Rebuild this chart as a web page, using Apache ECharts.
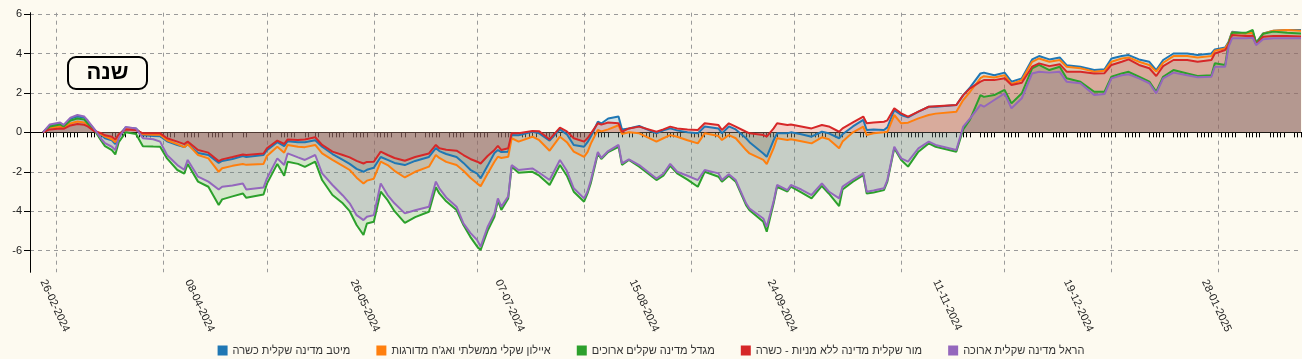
<!DOCTYPE html>
<html><head><meta charset="utf-8">
<script src="https://cdn.jsdelivr.net/npm/echarts@6/dist/echarts.min.js"></script>
<style>html,body{margin:0;padding:0;background:#fdfaf0}#c{width:1302px;height:359px}</style>
</head><body><div id="c"></div>
<script>
const dates = ['2024-02-26','2024-02-28','2024-03-02','2024-03-03','2024-03-05','2024-03-07','2024-03-09','2024-03-10','2024-03-12','2024-03-14',
'2024-03-15','2024-03-17','2024-03-18','2024-03-19','2024-03-21','2024-03-24','2024-03-26','2024-03-29','2024-03-31','2024-04-02',
'2024-04-05','2024-04-07','2024-04-08','2024-04-11','2024-04-14','2024-04-17','2024-04-18','2024-04-21','2024-04-24','2024-04-25',
'2024-04-30','2024-05-01','2024-05-04','2024-05-06','2024-05-07','2024-05-10','2024-05-12','2024-05-15','2024-05-17','2024-05-20',
'2024-05-23','2024-05-25','2024-05-27','2024-05-29','2024-05-30','2024-06-01','2024-06-03','2024-06-05','2024-06-07','2024-06-10',
'2024-06-13','2024-06-17','2024-06-19','2024-06-20','2024-06-22','2024-06-25','2024-06-27','2024-06-29','2024-07-01','2024-07-02',
'2024-07-04','2024-07-06','2024-07-07','2024-07-08','2024-07-10','2024-07-11','2024-07-13','2024-07-17','2024-07-19','2024-07-22',
'2024-07-25','2024-07-27','2024-07-29','2024-08-01','2024-08-02','2024-08-03','2024-08-05','2024-08-06','2024-08-08','2024-08-11',
'2024-08-12','2024-08-14','2024-08-17','2024-08-22','2024-08-24','2024-08-26','2024-08-28','2024-08-31','2024-09-03','2024-09-05',
'2024-09-09','2024-09-10','2024-09-12','2024-09-14','2024-09-17','2024-09-18','2024-09-22','2024-09-23','2024-09-25','2024-09-26',
'2024-09-29','2024-09-30','2024-10-03','2024-10-06','2024-10-09','2024-10-11','2024-10-14','2024-10-15','2024-10-18','2024-10-21',
'2024-10-22','2024-10-24','2024-10-27','2024-10-28','2024-10-30','2024-11-01','2024-11-03','2024-11-06','2024-11-09','2024-11-11',
'2024-11-17','2024-11-19','2024-11-21','2024-11-24','2024-11-25','2024-11-28','2024-12-01','2024-12-03','2024-12-06','2024-12-09',
'2024-12-11','2024-12-14','2024-12-17','2024-12-19','2024-12-23','2024-12-27','2024-12-30','2025-01-01','2025-01-04','2025-01-06',
'2025-01-09','2025-01-12','2025-01-14','2025-01-16','2025-01-19','2025-01-23','2025-01-26','2025-01-30','2025-01-31','2025-02-03',
'2025-02-04','2025-02-05','2025-02-09','2025-02-11','2025-02-12','2025-02-14','2025-02-17','2025-02-21','2025-02-25'];

const meitav = [0,0.35,0.45,0.35,0.7,0.8,0.75,0.55,0.12,-0.15,
-0.3,-0.4,-0.6,-0.15,0.25,0.2,-0.15,-0.18,-0.2,-0.45,
-0.65,-0.75,-0.6,-1.05,-1.15,-1.55,-1.45,-1.35,-1.2,-1.25,
-1.15,-0.9,-0.5,-0.7,-0.45,-0.5,-0.5,-0.4,-0.73,-1.1,
-1.4,-1.6,-1.85,-2.0,-1.9,-1.8,-1.25,-1.4,-1.55,-1.66,
-1.45,-1.25,-0.8,-0.95,-1.1,-1.25,-1.55,-1.9,-2.1,-2.33,
-1.7,-1.05,-0.9,-1.0,-0.98,-0.13,-0.15,0.03,-0.05,-0.42,
0.15,-0.1,-0.64,-0.73,-0.5,-0.2,0.54,0.45,0.7,0.8,
0.15,0.2,0.32,-0.05,0.1,0.2,0.1,0.0,-0.05,0.3,
0.2,-0.05,0.3,0.15,-0.3,-0.5,-1.07,-1.24,-0.4,-0.05,
-0.05,0.0,-0.1,-0.22,0.03,-0.05,-0.3,-0.1,0.3,0.63,
0.12,0.15,0.12,0.25,1.13,0.88,0.76,1.05,1.3,1.3,
1.39,1.89,2.28,2.99,3.03,2.9,3.03,2.57,2.74,3.7,
3.87,3.7,3.8,3.41,3.33,3.16,3.2,3.75,3.87,3.92,
3.7,3.58,3.16,3.67,4.0,4.0,3.92,4.0,4.21,4.31,
4.6,5.1,5.02,5.1,4.55,5.02,5.16,5.19,5.19];

const ayalon = [0,0.25,0.3,0.25,0.45,0.55,0.5,0.35,0.08,-0.1,
-0.22,-0.35,-0.5,-0.15,0.2,0.15,-0.1,-0.12,-0.12,-0.4,
-0.6,-0.75,-0.6,-1.15,-1.32,-2.0,-1.82,-1.7,-1.61,-1.65,
-1.6,-1.2,-0.73,-1.03,-0.64,-0.73,-0.75,-0.64,-1.07,-1.4,
-1.7,-1.91,-2.3,-2.6,-2.45,-2.35,-1.49,-1.66,-1.95,-2.29,
-2.0,-1.74,-1.15,-1.3,-1.5,-1.66,-1.95,-2.3,-2.6,-2.73,
-2.1,-1.49,-1.24,-1.3,-1.24,-0.3,-0.47,-0.22,-0.4,-0.93,
-0.22,-0.5,-0.98,-1.24,-1.0,-0.56,0.12,0.05,0.15,0.36,
-0.08,0.0,-0.05,-0.47,-0.3,-0.14,-0.22,-0.4,-0.56,-0.05,
-0.19,-0.39,-0.14,-0.3,-0.9,-1.07,-1.4,-1.61,-0.8,-0.3,
-0.39,-0.35,-0.45,-0.56,-0.25,-0.35,-0.81,-0.47,0.0,0.29,
-0.14,-0.05,0.0,0.03,0.88,0.46,0.49,0.71,0.88,0.95,
1.05,1.64,2.06,2.75,2.85,2.78,2.9,2.45,2.65,3.58,
3.75,3.58,3.67,3.33,3.25,3.08,3.13,3.58,3.75,3.8,
3.58,3.42,3.08,3.53,3.87,3.87,3.8,3.87,4.14,4.26,
4.55,5.07,5.02,5.05,4.52,5.0,5.16,5.19,5.16];

const migdal = [0,0.3,0.4,0.3,0.6,0.7,0.65,0.45,0.1,-0.45,
-0.7,-0.9,-1.12,-0.5,0.0,-0.08,-0.7,-0.72,-0.73,-1.32,
-1.91,-2.1,-1.6,-2.5,-2.76,-3.69,-3.4,-3.25,-3.1,-3.32,
-3.15,-2.6,-1.6,-2.2,-1.49,-1.6,-1.75,-1.49,-2.42,-3.18,
-3.6,-4.0,-4.7,-5.21,-4.62,-4.54,-3.01,-3.44,-4.0,-4.59,
-4.3,-4.03,-2.79,-3.1,-3.5,-3.94,-4.7,-5.3,-5.8,-5.97,
-5.0,-4.28,-3.45,-3.94,-3.35,-1.74,-2.05,-2.0,-2.2,-2.67,
-1.66,-2.2,-3.01,-3.52,-3.1,-2.55,-1.07,-1.35,-1.0,-0.73,
-1.65,-1.4,-1.74,-2.42,-2.2,-1.7,-2.08,-2.4,-2.76,-2.0,
-2.25,-2.5,-2.2,-2.5,-3.69,-3.95,-4.54,-5.04,-3.6,-2.76,
-3.0,-2.75,-3.05,-3.35,-2.72,-3.1,-3.74,-2.9,-2.5,-2.17,
-3.1,-3.05,-2.93,-2.5,-0.81,-1.4,-1.74,-0.98,-0.56,-0.73,
-0.98,0.15,0.66,1.89,1.8,1.89,2.15,1.47,1.98,3.25,
3.42,3.16,3.33,2.74,2.57,2.06,2.06,2.82,2.99,3.07,
2.82,2.57,2.06,2.82,3.16,2.99,2.86,2.9,3.5,3.42,
4.52,5.05,5.05,5.19,4.52,5.0,5.11,5.05,5.02];

const mor = [0,0.15,0.2,0.18,0.35,0.42,0.38,0.3,0.05,-0.05,
-0.15,-0.22,-0.36,-0.1,0.15,0.12,-0.05,-0.05,-0.05,-0.3,
-0.47,-0.6,-0.47,-0.9,-1.03,-1.46,-1.37,-1.25,-1.12,-1.15,
-1.07,-0.81,-0.42,-0.59,-0.36,-0.39,-0.36,-0.25,-0.64,-0.98,
-1.15,-1.27,-1.45,-1.58,-1.5,-1.49,-0.98,-1.15,-1.3,-1.44,
-1.25,-1.07,-0.64,-0.81,-0.88,-0.93,-1.15,-1.35,-1.49,-1.58,
-1.2,-0.89,-0.69,-0.9,-0.81,-0.05,-0.05,0.07,0.05,-0.36,
0.24,0.05,-0.3,-0.47,-0.3,-0.05,0.46,0.39,0.5,0.46,
0.03,0.2,0.29,0.03,0.15,0.29,0.2,0.15,0.12,0.46,
0.37,0.12,0.46,0.29,0.03,-0.05,-0.14,-0.22,0.2,0.46,
0.37,0.4,0.3,0.2,0.37,0.3,0.03,0.2,0.5,0.8,
0.46,0.5,0.54,0.61,1.22,0.96,0.8,1.05,1.3,1.33,
1.39,1.89,2.23,2.57,2.65,2.65,2.74,2.4,2.52,3.33,
3.5,3.36,3.46,3.08,3.08,2.99,3.0,3.42,3.58,3.7,
3.42,3.25,2.86,3.36,3.67,3.67,3.58,3.67,4.0,4.18,
4.43,4.94,4.89,4.9,4.45,4.85,4.89,4.89,4.86];

const harel = [0,0.4,0.5,0.38,0.75,0.88,0.8,0.6,0.15,-0.35,
-0.55,-0.73,-0.9,-0.3,0.27,0.2,-0.3,-0.35,-0.47,-1.15,
-1.66,-1.9,-1.4,-2.25,-2.5,-2.9,-2.76,-2.7,-2.59,-2.9,
-2.8,-2.34,-1.32,-1.66,-1.07,-1.27,-1.4,-1.15,-2.08,-2.67,
-3.2,-3.6,-4.2,-4.45,-4.28,-4.2,-2.59,-3.18,-3.6,-4.11,
-3.95,-3.77,-2.5,-2.84,-3.3,-3.77,-4.62,-5.1,-5.47,-5.8,
-4.8,-4.11,-3.35,-3.77,-3.25,-1.66,-1.91,-1.83,-2.05,-2.42,
-1.4,-1.95,-2.84,-3.35,-3.0,-2.42,-1.0,-1.3,-0.95,-0.64,
-1.57,-1.37,-1.66,-2.34,-2.1,-1.6,-2.0,-2.2,-2.42,-1.91,
-2.08,-2.42,-2.13,-2.42,-3.6,-3.86,-4.37,-4.79,-3.5,-2.67,
-2.93,-2.67,-2.9,-3.18,-2.59,-3.0,-3.35,-2.75,-2.4,-2.08,
-3.01,-2.95,-2.84,-2.42,-0.73,-1.32,-1.49,-0.81,-0.47,-0.64,
-0.9,0.29,0.71,1.39,1.3,1.64,1.98,1.22,1.73,2.99,
3.07,3.03,3.07,2.57,2.49,1.89,1.94,2.74,2.9,2.95,
2.74,2.49,1.98,2.74,3.03,2.9,2.79,2.82,3.33,3.33,
4.35,4.77,4.77,4.8,4.43,4.72,4.77,4.77,4.77];

const seriesNames = ['מיטב מדינה שקלית כשרה','איילון שקלי ממשלתי ואג\'ח מדורגות','מגדל מדינה שקלים ארוכים','מור שקלית מדינה ללא מניות - כשרה','הראל מדינה שקלית ארוכה'];
const seriesValues = [meitav, ayalon, migdal, mor, harel];
const colors = ['#1f77b4','#ff7f0e','#2ca02c','#d62728','#9467bd'];
const xLabelDates = ['2024-02-26','2024-04-08','2024-05-26','2024-07-07','2024-08-15','2024-09-24','2024-11-11','2024-12-19','2025-01-28'];
const monthStarts = ['2024-03-01','2024-04-01','2024-05-01','2024-06-01','2024-07-01','2024-08-01','2024-09-01','2024-10-01','2024-11-01','2024-12-01','2025-01-01','2025-02-01'];
const marketHolidays = ['2024-04-22','2024-04-23','2024-04-28','2024-04-29','2024-05-14','2024-06-11','2024-06-12','2024-08-13','2024-10-02','2024-10-03','2024-10-16','2024-10-17','2024-10-23','2024-10-24'];
const yTicks = [-6,-4,-2,0,2,4,6];
const titleText = 'שנה';

function ts(s){const p=s.split('-').map(Number);return new Date(p[0],p[1]-1,p[2]).getTime();}
const xMin = new Date(2024,1,22,6).getTime();
const xMax = new Date(2025,1,25,7).getTime();
// a tick mark at every trading day (Sun-Thu, minus market holidays) within the data range
const holidaySet = new Set(marketHolidays.map(ts));
const tickDates = [];
for (let t = ts(dates[0]); t <= ts(dates[dates.length-1]) + 3600000; t += 86400000) {
  const d = new Date(t); d.setHours(0,0,0,0);
  if (d.getDay() <= 4 && !holidaySet.has(d.getTime())) tickDates.push(d.getTime());
}
function pad(n){return (n<10?'0':'')+n;}

const chart = echarts.init(document.getElementById('c'), null, {renderer:'canvas'});
const font = '"Liberation Sans", Arial, sans-serif';
chart.setOption({
  backgroundColor: '#fdfaf0',
  animation: false,
  textStyle: {fontFamily: font},
  color: colors,
  grid: {left: 30, right: 0, top: 12.7, bottom: 86.7, containLabel: false},
  legend: {
    top: 340, left: 'center', icon: 'rect', itemWidth: 10, itemHeight: 10, itemGap: 26,
    textStyle: {fontSize: 11, color: '#333', fontFamily: font},
    data: seriesNames
  },
  xAxis: [{
    type: 'value', min: xMin, max: xMax,
    axisLine: {show: true, lineStyle: {color: '#000', width: 1}},
    axisTick: {show: true, length: 5, customValues: tickDates, lineStyle: {color: '#000'}},
    axisLabel: {
      customValues: xLabelDates.map(ts), rotate: -65, margin: 8, fontSize: 11, color: '#222',
      formatter: function(v){const d=new Date(v);return pad(d.getDate())+'-'+pad(d.getMonth()+1)+'-'+d.getFullYear();}
    },
    splitLine: {show: false}
  },{
    type: 'value', min: xMin, max: xMax, position: 'bottom',
    axisLine: {show: false}, axisLabel: {show: false},
    axisTick: {show: false, customValues: monthStarts.map(ts)},
    splitLine: {show: true, lineStyle: {color: '#9a9a9a', type: [4,4], width: 1}}
  }],
  yAxis: {
    type: 'value', min: -7.1, max: 6.07,
    axisLine: {show: true, lineStyle: {color: '#000', width: 1}},
    axisTick: {show: true, length: 6, customValues: yTicks, lineStyle: {color: '#000'}},
    axisLabel: {customValues: yTicks, fontSize: 11, color: '#222', margin: 8},
    splitLine: {show: true, lineStyle: {color: '#9a9a9a', type: [4,4], width: 1}}
  },
  graphic: [{
    type: 'group', left: 67, top: 56,
    children: [
      {type: 'rect', shape: {x: 0, y: 0, width: 79, height: 32, r: 8}, style: {fill: 'rgba(0,0,0,0)', stroke: '#000', lineWidth: 2}},
      {type: 'text', x: 39.5, y: 16, style: {text: titleText, font: 'bold 22px ' + font, fill: '#000', textAlign: 'center', textVerticalAlign: 'middle'}}
    ]
  }],
  series: seriesNames.map(function(name, i){
    return {
      name: name, type: 'line', xAxisIndex: 0, showSymbol: false, symbol: 'none',
      data: dates.map(function(d, j){return [ts(d), seriesValues[i][j]];}),
      lineStyle: {width: 2, color: colors[i]},
      itemStyle: {color: colors[i]},
      areaStyle: {color: colors[i], opacity: 0.2, origin: 0}
    };
  })
});
</script></body></html>
